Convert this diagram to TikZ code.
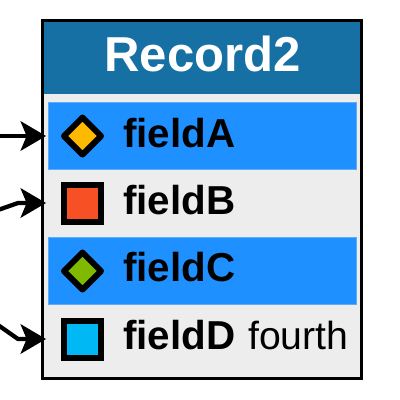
\documentclass[tikz,border=0pt]{standalone}
\usepackage{fontspec}
\setmainfont{Liberation Sans}
\usetikzlibrary{arrows.meta,shapes.geometric}
\definecolor{headblue}{HTML}{1670A4}
\definecolor{rowblue}{HTML}{1E90FF}
\definecolor{bodygrey}{HTML}{EDEDED}
\definecolor{cyel}{HTML}{FFB900}
\definecolor{cred}{HTML}{F65024}
\definecolor{cgreen}{HTML}{7FB900}
\definecolor{ccyan}{HTML}{00B9F4}
\tikzset{
  x=0.75pt,y=-0.75pt,
  record/.style={draw=black,line width=3pt*0.75,fill=bodygrey,rectangle,inner sep=0pt,minimum width=0.75pt*319,minimum height=0.75pt*358},
  header/.style={fill=headblue,rectangle,inner sep=0pt,minimum width=0.75pt*316,minimum height=0.75pt*72},
  title/.style={text=white,font=\bfseries\fontsize{36.8}{36}\selectfont,inner sep=0pt},
  rowfill/.style={fill=rowblue,draw=rowblue!70!bodygrey,line width=0.5pt,rectangle,inner sep=0pt,minimum width=0.75pt*308,minimum height=0.75pt*67.5},
  fieldname/.style={font=\bfseries\fontsize{30.3}{30}\selectfont,anchor=base west,inner sep=0pt},
  fielddesc/.style={font=\fontsize{29.4}{30}\selectfont,anchor=base west,inner sep=0pt},
  iconsq/.style={draw=black,line width=4.5pt,rectangle,inner sep=0pt,minimum size=0.75pt*37},
  icondi/.style={draw=black,line width=4.5pt,line join=round,diamond,inner sep=0pt,minimum size=0.75pt*39.5},
  link/.style={draw=black,line width=3.2pt,-{Stealth[length=19pt,width=22pt,inset=4.5pt]},line join=round},
}
\begin{document}
\begin{tikzpicture}
\useasboundingbox (0,0) rectangle (400,400);
\node[record] (box) at (201.5,199.5) {};
\node[header] (head) at (201.5,58) {};
\node[title] (ttl) at (202.5,54) {Record2};
\node[rowfill] (rowA) at (202,136) {};
\node[rowfill] (rowC) at (202,271) {};
\node[icondi,fill=cyel] (iconA) at (82.5,136) {};
\node[iconsq,fill=cred] (iconB) at (82.5,203) {};
\node[icondi,fill=cgreen] (iconC) at (82.5,271) {};
\node[iconsq,fill=ccyan] (iconD) at (82.5,339) {};
\node[fieldname] (fA) at (123,147) {fieldA};
\node[fieldname] (fB) at (123,214) {fieldB};
\node[fieldname] (fC) at (123,281) {fieldC};
\node[fieldname] (fD) at (123,349) {fieldD};
\node[fielddesc] (dD) at (248,349) {fourth};
\coordinate (pA) at (46,136);
\coordinate (pB) at (46,203);
\coordinate (pD) at (46,339);
\coordinate (sA) at (0,136);
\coordinate (sB) at (-2,210);
\coordinate (mB) at (18,203);
\coordinate (sD) at (-2,325);
\coordinate (mD) at (18,339);
\draw[link] (sA) -- (pA);
\draw[link] (sB) -- (mB) -- (pB);
\draw[link] (sD) -- (mD) -- (pD);
\end{tikzpicture}
\end{document}
